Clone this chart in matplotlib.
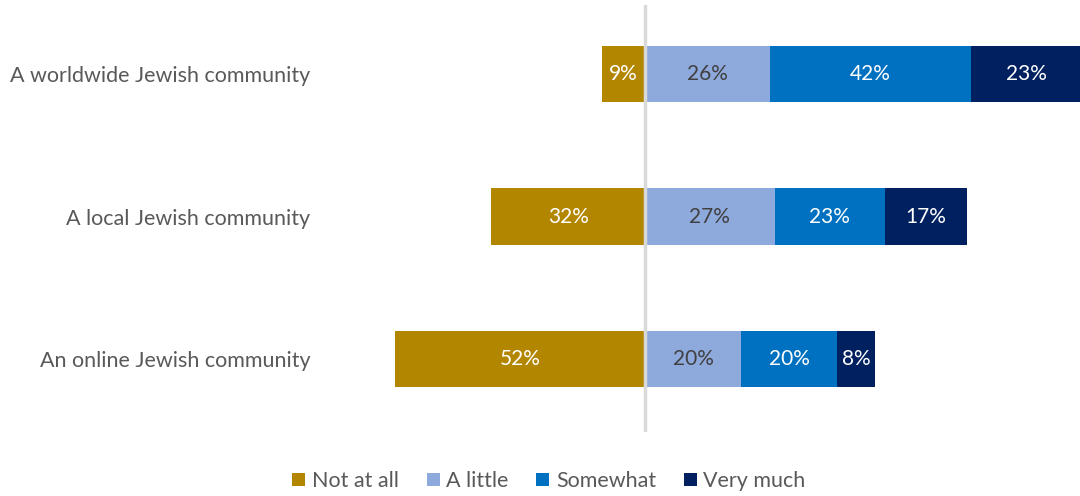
import numpy as np
import matplotlib.pyplot as plt
from matplotlib.patches import Patch

plt.rcParams['font.family'] = ['Lato', 'DejaVu Sans']

categories = ['An online Jewish community', 'A local Jewish community', 'A worldwide Jewish community']
not_at_all = [52, 32, 9]
a_little = [20, 27, 26]
somewhat = [20, 23, 42]
very_much = [8, 17, 23]

series_names = ['Not at all', 'A little', 'Somewhat', 'Very much']
colors = ['#B38600', '#8EA9DB', '#0070C0', '#002060']
label_colors = ['white', '#404040', 'white', 'white']

fig = plt.figure(figsize=(10.8, 4.96), dpi=100)
ax = fig.add_axes([330 / 1080, 64 / 496, 750 / 1080, 427 / 496])

y = np.arange(len(categories))
h = 0.393

# negative side
ax.barh(y, [-v for v in not_at_all], height=h, color=colors[0], left=0)
for yi, v in zip(y, not_at_all):
    ax.text(-v / 2, yi, f'{v}%', ha='center', va='center', color=label_colors[0], fontsize=15)

# positive side, stacked
left = np.zeros(len(categories))
for vals, col, lc in zip([a_little, somewhat, very_much], colors[1:], label_colors[1:]):
    ax.barh(y, vals, height=h, left=left, color=col)
    for yi, l, v in zip(y, left, vals):
        ax.text(l + v / 2, yi, f'{v}%', ha='center', va='center', color=lc, fontsize=15)
    left += np.array(vals)

ax.axvline(0, color='#D9D9D9', linewidth=2.5, zorder=3)

ax.set_xlim(-65.6, 90.6)
ax.set_ylim(-0.512, 2.484)
ax.set_yticks(y)
ax.set_yticklabels(categories, fontsize=15.5, color='#595959')
ax.tick_params(axis='y', length=0, pad=14)
ax.set_xticks([])
for s in ax.spines.values():
    s.set_visible(False)

handles = [Patch(facecolor=c, label=n) for c, n in zip(colors, series_names)]
fig.legend(handles=handles, loc='center', bbox_to_anchor=(549 / 1080, 1 - 481 / 496), ncol=4,
           frameon=False, fontsize=15.5, labelcolor='#595959', handlelength=0.6, handleheight=0.6,
           handletextpad=0.3, columnspacing=1.3)

fig.savefig('out.png', dpi=100)
